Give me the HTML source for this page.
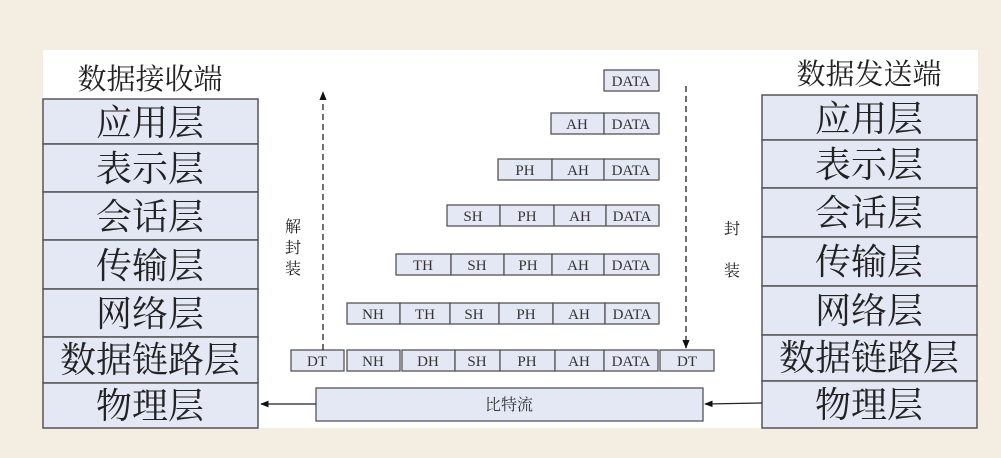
<!DOCTYPE html>
<html><head><meta charset="utf-8"><style>
html,body{margin:0;padding:0;width:1001px;height:458px;overflow:hidden;background:#f4eee2;}
svg{display:block}
.cj{font-family:"Liberation Serif","Noto Serif CJK SC",serif;fill:#222}
.pk{font-family:"Liberation Serif","Noto Serif CJK SC",serif;font-size:15px;fill:#333}
</style></head><body>
<svg width="1001" height="458" viewBox="0 0 1001 458" xmlns="http://www.w3.org/2000/svg">
<defs>
<marker id="ah" viewBox="0 0 10 10" refX="9" refY="5" markerWidth="7" markerHeight="7" orient="auto"><path d="M0,1 L10,5 L0,9 z" fill="#111"/></marker>
</defs>
<rect x="43" y="50" width="935" height="378" fill="#ffffff"/>
<!-- left stack -->
<text class="cj" x="150" y="89" font-size="29" text-anchor="middle">数据接收端</text>
<g stroke="#555" stroke-width="1.5" fill="#e4e8f4">
<rect x="43" y="99" width="215" height="45"/><rect x="43" y="144" width="215" height="48"/>
<rect x="43" y="192" width="215" height="48"/><rect x="43" y="240" width="215" height="49"/>
<rect x="43" y="289" width="215" height="48"/><rect x="43" y="337" width="215" height="46"/>
<rect x="43" y="383" width="215" height="45"/>
</g>
<g class="cj" font-size="36" text-anchor="middle">
<text x="150" y="135">应用层</text><text x="150" y="181">表示层</text><text x="150" y="229">会话层</text>
<text x="150" y="278">传输层</text><text x="150" y="326">网络层</text><text x="150" y="372">数据链路层</text>
<text x="150" y="418">物理层</text>
</g>
<!-- right stack -->
<text class="cj" x="869" y="84" font-size="29" text-anchor="middle">数据发送端</text>
<g stroke="#555" stroke-width="1.5" fill="#e4e8f4">
<rect x="762" y="95" width="215" height="45"/><rect x="762" y="140" width="215" height="48"/>
<rect x="762" y="188" width="215" height="49"/><rect x="762" y="237" width="215" height="49"/>
<rect x="762" y="286" width="215" height="49"/><rect x="762" y="335" width="215" height="46"/>
<rect x="762" y="381" width="215" height="47"/>
</g>
<g class="cj" font-size="36" text-anchor="middle">
<text x="869" y="131">应用层</text><text x="869" y="177">表示层</text><text x="869" y="225">会话层</text>
<text x="869" y="274">传输层</text><text x="869" y="323">网络层</text><text x="869" y="370">数据链路层</text>
<text x="869" y="417">物理层</text>
</g>
<!-- packets -->
<g stroke="#555" stroke-width="1.3" fill="#e4e8f4">
<rect x="604" y="70" width="55" height="21"/>
<rect x="551" y="113" width="53" height="21"/><rect x="604" y="113" width="55" height="21"/>
<rect x="498" y="159" width="54" height="21"/><rect x="552" y="159" width="52" height="21"/><rect x="604" y="159" width="55" height="21"/>
<rect x="447" y="205" width="53" height="21"/><rect x="500" y="205" width="54" height="21"/><rect x="554" y="205" width="52" height="21"/><rect x="606" y="205" width="53" height="21"/>
<rect x="396" y="254" width="55" height="21"/><rect x="451" y="254" width="53" height="21"/><rect x="504" y="254" width="48" height="21"/><rect x="552" y="254" width="52" height="21"/><rect x="604" y="254" width="55" height="21"/>
<rect x="347" y="303" width="53" height="21"/><rect x="400" y="303" width="50" height="21"/><rect x="450" y="303" width="49" height="21"/><rect x="499" y="303" width="54" height="21"/><rect x="553" y="303" width="52" height="21"/><rect x="605" y="303" width="54" height="21"/>
<rect x="291" y="350" width="53" height="21"/><rect x="347" y="350" width="53" height="21"/><rect x="402" y="350" width="53" height="21"/><rect x="455" y="350" width="45" height="21"/><rect x="500" y="350" width="55" height="21"/><rect x="555" y="350" width="49" height="21"/><rect x="604" y="350" width="54" height="21"/><rect x="660" y="350" width="54" height="21"/>
<rect x="316" y="388" width="387" height="33"/>
</g>
<g class="pk" text-anchor="middle">
<text x="631" y="86">DATA</text>
<text x="577" y="129">AH</text><text x="631" y="129">DATA</text>
<text x="525" y="175">PH</text><text x="578" y="175">AH</text><text x="631" y="175">DATA</text>
<text x="473" y="221">SH</text><text x="527" y="221">PH</text><text x="580" y="221">AH</text><text x="632" y="221">DATA</text>
<text x="423" y="270">TH</text><text x="477" y="270">SH</text><text x="528" y="270">PH</text><text x="578" y="270">AH</text><text x="631" y="270">DATA</text>
<text x="373" y="319">NH</text><text x="425" y="319">TH</text><text x="474" y="319">SH</text><text x="526" y="319">PH</text><text x="579" y="319">AH</text><text x="632" y="319">DATA</text>
<text x="317" y="366">DT</text><text x="373" y="366">NH</text><text x="428" y="366">DH</text><text x="477" y="366">SH</text><text x="527" y="366">PH</text><text x="579" y="366">AH</text><text x="631" y="366">DATA</text><text x="687" y="366">DT</text>
<text x="509" y="410" font-size="16">比特流</text>
</g>
<!-- arrows -->
<line x1="323" y1="350" x2="323" y2="92" stroke="#222" stroke-width="1.3" stroke-dasharray="6,4" marker-end="url(#ah)"/>
<line x1="686" y1="86" x2="686" y2="348" stroke="#222" stroke-width="1.3" stroke-dasharray="6,4" marker-end="url(#ah)"/>
<line x1="316" y1="404" x2="261" y2="404" stroke="#222" stroke-width="1.2" marker-end="url(#ah)"/>
<line x1="762" y1="403" x2="705" y2="404" stroke="#222" stroke-width="1.2" marker-end="url(#ah)"/>
<g class="cj" font-size="16" text-anchor="middle" fill="#333">
<text x="293" y="232">解</text><text x="293" y="253">封</text><text x="293" y="274">装</text>
<text x="732" y="234">封</text><text x="732" y="276">装</text>
</g>
</svg>
</body></html>
